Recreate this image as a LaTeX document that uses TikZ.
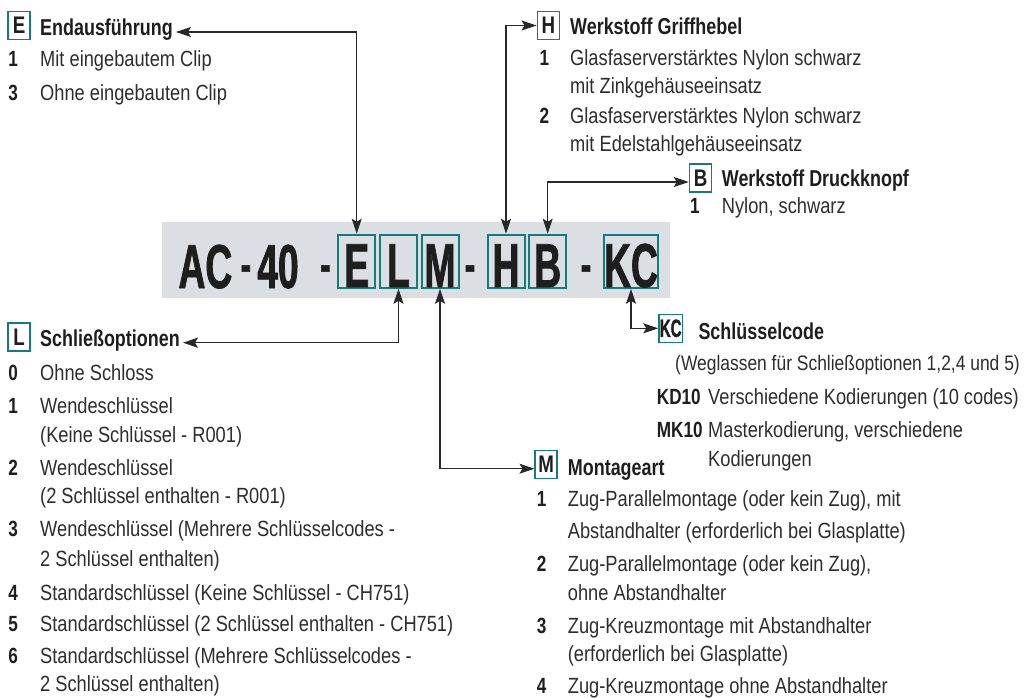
\documentclass[tikz,border=0pt]{standalone}
\usepackage{fontspec}
\usepackage{xcolor}
\usepackage{tikz}
\usetikzlibrary{arrows.meta,positioning}
\newfontfamily\bodyfam{Liberation Sans}[FakeStretch=0.83]
\newfontfamily\headfam{Liberation Sans}[FakeStretch=0.78]
\newfontfamily\codefam{Liberation Sans}[FakeStretch=0.6, FakeBold=1.2]
\definecolor{cTeal}{RGB}{18,124,126}
\definecolor{cBar}{RGB}{219,222,227}
\definecolor{cText}{RGB}{45,45,45}
\definecolor{cHead}{RGB}{30,30,30}
\definecolor{cLine}{RGB}{40,40,40}
\tikzset{
  txt/.style={anchor=base west, inner sep=0pt, text=cText,
              font=\bodyfam\fontsize{22}{26}\selectfont},
  txts/.style={txt, font=\bodyfam\fontsize{21}{25}\selectfont},
  num/.style={anchor=base west, inner sep=0pt, text=cHead,
              font=\headfam\bfseries\fontsize{22}{26}\selectfont},
  ttl/.style={num, font=\headfam\bfseries\fontsize{23}{27}\selectfont},
  sbox/.style={draw=cTeal, line width=1.5pt, minimum width=22pt, minimum height=28pt,
               inner sep=0pt, text=cHead, font=\headfam\bfseries\fontsize{24}{24}\selectfont},
  bbox/.style={draw=cTeal, line width=2pt, minimum width=37pt, text height=51.5pt,
               text depth=0pt, inner ysep=0.8pt, inner xsep=0pt, anchor=south,
               text=cHead, font=\codefam\bfseries\fontsize{62}{62}\selectfont},
  big/.style={anchor=base, inner sep=0pt, text=cHead,
              font=\codefam\bfseries\fontsize{62}{62}\selectfont},
  dsh/.style={big, font=\codefam\bfseries\fontsize{52}{52}\selectfont},
  link/.style={{Stealth[length=15pt,width=10pt,inset=3pt]}-{Stealth[length=15pt,width=10pt,inset=3pt]},
               line width=1.2pt, draw=cLine},
}

\begin{document}
\begin{tikzpicture}[x=1pt, y=-1pt]
  \useasboundingbox (0,0) rectangle (1027,697);

  \fill[cBar] (162,222) rectangle (670,298);
  \node[big] (cAC) at (205.4,288) {AC};
  \node[dsh] (cd1) at (245.8,282) {-};
  \node[big] (c40) at (278,288) {40};
  \node[dsh] (cd2) at (325.4,282) {-};
  \node[bbox] (cE) at (356.7,288.8) {E};
  \node[bbox] (cL) at (398.5,288.8) {L};
  \node[bbox] (cM) at (440,288.8) {M};
  \node[dsh] (cd3) at (470,282) {-};
  \node[bbox] (cH) at (506,288.8) {H};
  \node[bbox] (cB) at (547.7,288.8) {B};
  \node[dsh] (cd4) at (586,282) {-};
  \node[bbox, minimum width=50pt] (cKC) at (631,288.8) {KC};

  \node[sbox] (eBox) at (19.2,25.5) {E};
  \node[ttl] (eTitle) at (40,35) {Endausführung};
  \node[num] (e1n) at (8.3,66.7) {1};
  \node[txt] (e1) at (40,66.7) {Mit eingebautem Clip};
  \node[num] (e3n) at (8.3,100) {3};
  \node[txt] (e3) at (40,100) {Ohne eingebauten Clip};

  \node[sbox] (hBox) at (548.3,25.5) {H};
  \node[ttl] (hTitle) at (570,34) {Werkstoff Griffhebel};
  \node[num] (h1n) at (539.3,65) {1};
  \node[txt] (h1a) at (570,65) {Glasfaserverstärktes Nylon schwarz};
  \node[txt] (h1b) at (570,93.3) {mit Zinkgehäuseeinsatz};
  \node[num] (h2n) at (539.3,123.3) {2};
  \node[txt] (h2a) at (570,123.3) {Glasfaserverstärktes Nylon schwarz};
  \node[txt] (h2b) at (570,151.7) {mit Edelstahlgehäuseeinsatz};

  \node[sbox] (bBox) at (700.5,178) {B};
  \node[ttl] (bTitle) at (721.7,186) {Werkstoff Druckknopf};
  \node[num] (b1n) at (690,213.3) {1};
  \node[txt] (b1) at (721.7,213.3) {Nylon, schwarz};

  \node[sbox, minimum width=23.3pt, font=\codefam\bfseries\fontsize{25}{25}\selectfont] (kBox) at (670.7,328.3) {KC};
  \node[ttl] (kTitle) at (698.3,339) {Schlüsselcode};
  \node[txts] (kNote) at (675,370) {(Weglassen für Schließoptionen 1,2,4 und 5)};
  \node[num] (k1n) at (656.7,404) {KD10};
  \node[txt] (k1) at (708,404) {Verschiedene Kodierungen (10 codes)};
  \node[num] (k2n) at (656.7,437) {MK10};
  \node[txt] (k2a) at (708,437) {Masterkodierung, verschiedene};
  \node[txt] (k2b) at (708,466.7) {Kodierungen};

  \node[sbox] (mBox) at (546.2,464.7) {M};
  \node[ttl] (mTitle) at (567.7,475) {Montageart};
  \node[num] (m1n) at (536.7,506.7) {1};
  \node[txt] (m1a) at (567.7,506.7) {Zug-Parallelmontage (oder kein Zug), mit};
  \node[txt] (m1b) at (567.7,538.3) {Abstandhalter (erforderlich bei Glasplatte)};
  \node[num] (m2n) at (536.7,571.7) {2};
  \node[txt] (m2a) at (567.7,571.7) {Zug-Parallelmontage (oder kein Zug),};
  \node[txt] (m2b) at (567.7,600) {ohne Abstandhalter};
  \node[num] (m3n) at (536.7,633.3) {3};
  \node[txt] (m3a) at (567.7,633.3) {Zug-Kreuzmontage mit Abstandhalter};
  \node[txt] (m3b) at (567.7,661.7) {(erforderlich bei Glasplatte)};
  \node[num] (m4n) at (536.7,693.3) {4};
  \node[txt] (m4) at (567.7,693.3) {Zug-Kreuzmontage ohne Abstandhalter};

  \node[sbox] (lBox) at (19.2,337) {L};
  \node[ttl] (lTitle) at (40,346.7) {Schließoptionen};
  \node[num] (l0n) at (8.3,380) {0};
  \node[txt] (l0) at (40,380) {Ohne Schloss};
  \node[num] (l1n) at (8.3,413) {1};
  \node[txt] (l1a) at (40,413) {Wendeschlüssel};
  \node[txt] (l1b) at (40,442.5) {(Keine Schlüssel - R001)};
  \node[num] (l2n) at (8.3,475) {2};
  \node[txt] (l2a) at (40,475) {Wendeschlüssel};
  \node[txt] (l2b) at (40,503.3) {(2 Schlüssel enthalten - R001)};
  \node[num] (l3n) at (8.3,536.7) {3};
  \node[txt] (l3a) at (40,536.7) {Wendeschlüssel (Mehrere Schlüsselcodes -};
  \node[txt] (l3b) at (40,566.7) {2 Schlüssel enthalten)};
  \node[num] (l4n) at (8.3,600) {4};
  \node[txt] (l4) at (40,600) {Standardschlüssel (Keine Schlüssel - CH751)};
  \node[num] (l5n) at (8.3,631.7) {5};
  \node[txt] (l5) at (40,631.7) {Standardschlüssel (2 Schlüssel enthalten - CH751)};
  \node[num] (l6n) at (8.3,663.3) {6};
  \node[txt] (l6a) at (40,663.3) {Standardschlüssel (Mehrere Schlüsselcodes -};
  \node[txt] (l6b) at (40,691.7) {2 Schlüssel enthalten)};

  \draw[link] ([xshift=3pt,yshift=3pt]eTitle.base east) -| (cE.north);
  \draw[link] (hBox.west) -| (cH.north);
  \draw[link] ([yshift=-4pt]bBox.west) -| (cB.north);
  \draw[link] (cKC.south) |- (kBox.west);
  \draw[link] (cL.south) |- ([xshift=3pt,yshift=4pt]lTitle.base east);
  \draw[link] (cM.south) |- ([yshift=-4pt]mBox.west);
\end{tikzpicture}
\end{document}
